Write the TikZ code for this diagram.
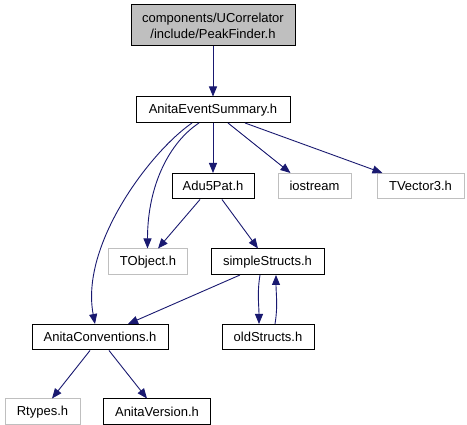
\documentclass[tikz,border=0pt]{standalone}
\usepackage{fontspec}
\setmainfont{Liberation Sans}
\usepackage{xcolor}
\usepackage{tikz}
\usetikzlibrary{positioning, arrows.meta}

\definecolor{edgeblue}{RGB}{25,25,112}
\definecolor{nodegray}{RGB}{191,191,191}

\begin{document}
\begin{tikzpicture}[
        x=1pt, y=-1pt,
        box/.style={rectangle, draw=black, line width=1pt, fill=white, inner sep=0pt, minimum height=25.5pt, align=center, font=\fontsize{13}{16}\selectfont},
        extbox/.style={box, draw=nodegray},
        arrow/.style={-{Triangle[length=10pt, width=8pt]}, draw=edgeblue, line width=0.9pt}
    ]
    \useasboundingbox (0,0) rectangle (467,425);

    \node[box, fill=nodegray, minimum width=164pt, minimum height=41pt] (pf) at (213,25.5) {components/UCorrelator\\/include/PeakFinder.h};
    \node[box, below=50pt of pf, minimum width=154pt] (aes) {AnitaEventSummary.h};
    \node[box, below=50pt of aes, minimum width=82pt] (adu) {Adu5Pat.h};
    \node[extbox, right=23pt of adu, minimum width=73pt] (io) {iostream};
    \node[extbox, right=25pt of io, minimum width=87pt] (tvec) {TVector3.h};
    \node[extbox, below=49pt of adu, xshift=-65pt, minimum width=79pt] (tobj) {TObject.h};
    \node[box, below=49pt of adu, xshift=54.5pt, minimum width=113pt] (simple) {simpleStructs.h};
    \node[box, below=49pt of tobj, xshift=-48pt, minimum width=136pt] (conv) {AnitaConventions.h};
    \node[box, below=49pt of simple, xshift=0.5pt, minimum width=92pt] (old) {oldStructs.h};
    \node[extbox, below=48pt of conv, xshift=-57.5pt, minimum width=75pt] (rtypes) {Rtypes.h};
    \node[box, below=48pt of conv, xshift=57pt, minimum width=107pt] (ver) {AnitaVersion.h};

    \draw[arrow] (pf.south) -- (aes.north);
    \draw[arrow] (aes.south) -- (adu.north);
    \draw[arrow] ([xshift=15pt]aes.south) -- ([xshift=-24pt]io.north);
    \draw[arrow] ([xshift=32pt]aes.south) -- ([xshift=-38pt]tvec.north);
    \draw[arrow] ([xshift=-14pt]aes.south) .. controls +(-29,19) and +(0,-64) .. ([xshift=-0.5pt]tobj.north);
    \draw[arrow] ([xshift=-21pt]aes.south) .. controls +(-42,29) and +(-15,-79) .. ([xshift=-5pt]conv.north);

    \draw[arrow] ([xshift=-13pt]adu.south) -- ([xshift=10pt]tobj.north);
    \draw[arrow] ([xshift=9pt]adu.south) -- ([xshift=-9.5pt]simple.north);

    \draw[arrow] ([xshift=-27.5pt]simple.south) -- ([xshift=28pt]conv.north);
    \draw[arrow] ([xshift=-7.5pt]simple.south) .. controls +(-3,18) and +(0,-18) .. ([xshift=-9pt]old.north);
    \draw[arrow] ([xshift=7pt]old.north) .. controls +(3,-18) and +(0,18) .. ([xshift=8.5pt]simple.south);

    \draw[arrow] ([xshift=-10pt]conv.south) -- ([xshift=9.5pt]rtypes.north);
    \draw[arrow] ([xshift=9pt]conv.south) -- ([xshift=-10pt]ver.north);
\end{tikzpicture}
\end{document}
